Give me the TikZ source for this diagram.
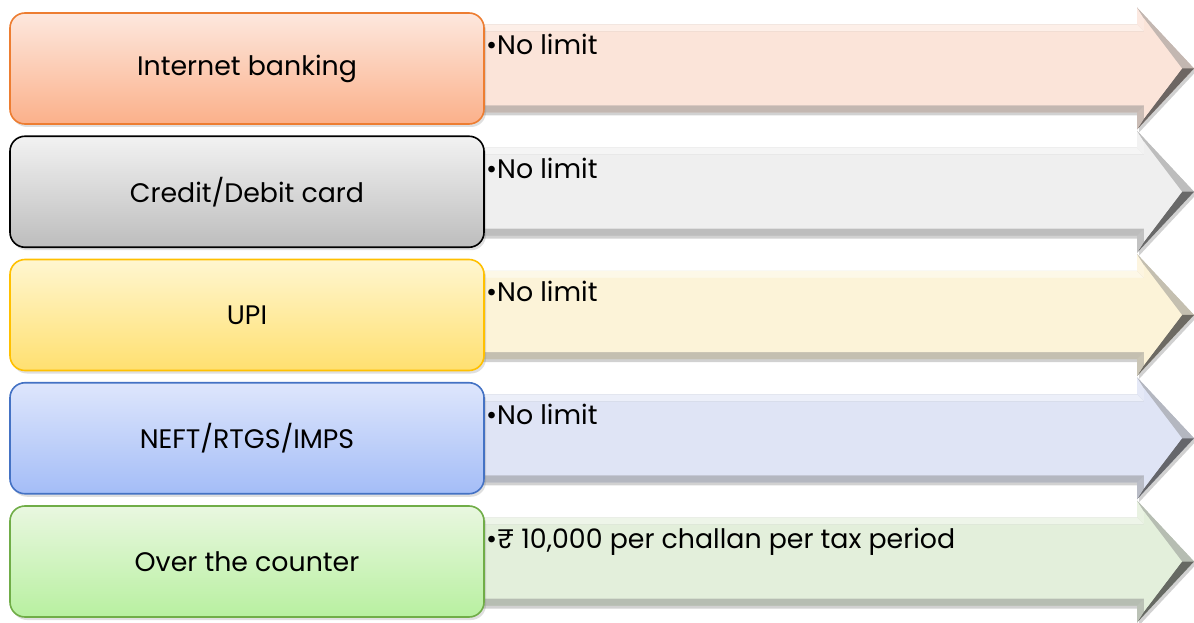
\documentclass[tikz,border=0pt]{standalone}
\usepackage{fontspec}
\setmainfont{Poppins}
\usetikzlibrary{shadows}
\definecolor{t1}{HTML}{FDE8DE}\definecolor{b1}{HTML}{FBB08A}\definecolor{d1}{HTML}{ED7D31}\definecolor{a1}{HTML}{FBE4D9}
\definecolor{t2}{HTML}{F2F2F2}\definecolor{b2}{HTML}{BDBDBD}\definecolor{d2}{HTML}{000000}\definecolor{a2}{HTML}{EFEFEF}
\definecolor{t3}{HTML}{FFF6D0}\definecolor{b3}{HTML}{FFE070}\definecolor{d3}{HTML}{FFC000}\definecolor{a3}{HTML}{FCF3D8}
\definecolor{t4}{HTML}{DEE6FC}\definecolor{b4}{HTML}{A4BDF7}\definecolor{d4}{HTML}{4472C4}\definecolor{a4}{HTML}{DFE4F5}
\definecolor{t5}{HTML}{E9F7E0}\definecolor{b5}{HTML}{B8F0A0}\definecolor{d5}{HTML}{70AD47}\definecolor{a5}{HTML}{E3EFDB}
\tikzset{
  labelbox/.style={rounded corners=15pt, line width=1.6pt, minimum width=474pt, minimum height=111pt,
    inner sep=0pt, font=\fontsize{26.8}{31}\selectfont,
    drop shadow={shadow xshift=2pt, shadow yshift=-3pt, opacity=0.25}},
  detail/.style={anchor=base west, inner sep=0pt, font=\fontsize{26.8}{31}\selectfont},
}
\newcommand\rowblock[4]{%
  % shadow
  \fill[black, opacity=0.18] (472,#2+41) -- (1139,#2+41) -- (1139,#2+58) -- (1196,#2-3) -- (1139,#2-64) -- (1139,#2-47) -- (472,#2-47) -- cycle;
  % outer (mid tone)
  \fill[a#1!65!gray] (470,#2+44) -- (1137,#2+44) -- (1137,#2+61) -- (1194,#2) -- (1137,#2-61) -- (1137,#2-44) -- (470,#2-44) -- cycle;
  % top facet
  \fill[a#1!60!white] (470,#2+44) -- (1137,#2+44) -- (1144,#2+37) -- (470,#2+37) -- cycle;
  % head back top facet
  \fill[a#1!80!white] (1137,#2+44) -- (1137,#2+61) -- (1144,#2+50) -- (1144,#2+37) -- cycle;
  % head upper diagonal
  \fill[a#1!55!gray] (1137,#2+61) -- (1194,#2) -- (1182,#2) -- (1144,#2+50) -- cycle;
  % head lower diagonal
  \fill[a#1!40!black!70!gray] (1194,#2) -- (1137,#2-61) -- (1144,#2-50) -- (1182,#2) -- cycle;
  % head back bottom facet
  \fill[a#1!60!gray] (1137,#2-44) -- (1137,#2-61) -- (1144,#2-50) -- (1144,#2-37) -- cycle;
  % bottom facet
  \fill[a#1!55!gray] (470,#2-44) -- (1137,#2-44) -- (1144,#2-37) -- (470,#2-37) -- cycle;
  % inner face
  \fill[a#1] (470,#2+37) -- (1144,#2+37) -- (1144,#2+50) -- (1182,#2) -- (1144,#2-50) -- (1144,#2-37) -- (470,#2-37) -- cycle;
  % label box
  \node[labelbox, draw=d#1, top color=t#1, bottom color=b#1] (box#1) at (247,#2) {#3};
  \node[detail] (det#1) at (486,#2+13.5) {#4};
}
\begin{document}
\begin{tikzpicture}[x=1pt,y=1pt]
\useasboundingbox (0,0) rectangle (1194,622);
\fill[white] (0,0) rectangle (1194,622);
\rowblock{1}{553.5}{Internet banking}{•No limit}
\rowblock{2}{430.25}{Credit/Debit card}{•No limit}
\rowblock{3}{307}{UPI}{•No limit}
\rowblock{4}{183.75}{NEFT/RTGS/IMPS}{•No limit}
\rowblock{5}{60.5}{Over the counter}{•₹ 10,000 per challan per tax period}
\end{tikzpicture}
\end{document}
